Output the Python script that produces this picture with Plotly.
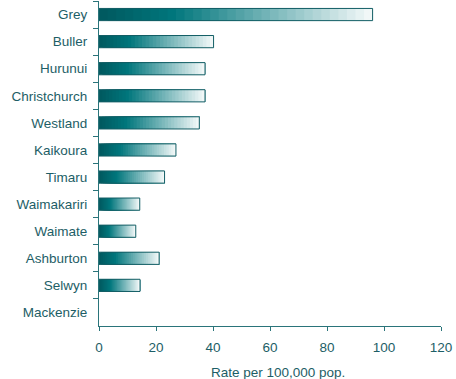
import plotly.graph_objects as go

# Rate per 100,000 population by district
districts = ["Grey", "Buller", "Hurunui", "Christchurch", "Westland", "Kaikoura",
             "Timaru", "Waimakariri", "Waimate", "Ashburton", "Selwyn", "Mackenzie"]
rates = [96.0, 40.2, 37.2, 37.2, 35.2, 27.0, 23.0, 14.3, 12.9, 21.1, 14.4, 0.0]

x_ticks = [0, 20, 40, 60, 80, 100, 120]

TEXT = "#1d5e66"
AXIS = "#2a747a"
EDGE = "#135e65"
FONT = "Arial, Liberation Sans, sans-serif"
FSIZE = 13.5

# gradient stops along each bar: (fraction, rgb)
stops = [(0.0, (0, 88, 94)), (0.27, (0, 118, 124)), (1.0, (246, 250, 250))]


def colour_at(t):
    for (t0, c0), (t1, c1) in zip(stops[:-1], stops[1:]):
        if t <= t1:
            f = (t - t0) / (t1 - t0) if t1 > t0 else 0
            return "rgb(%d,%d,%d)" % tuple(round(a + (b - a) * f) for a, b in zip(c0, c1))
    return "rgb(%d,%d,%d)" % stops[-1][1]


N = 32
fig = go.Figure()
# each band starts further along the bar and runs to its end, so later
# (lighter) bands overlay earlier ones without seams
for i in range(N):
    frac = i / N
    fig.add_trace(go.Bar(
        y=districts,
        x=[v * (1 - frac) for v in rates],
        base=[v * frac for v in rates],
        orientation="h",
        width=0.45,
        marker=dict(color=colour_at((i + 0.5) / N), line=dict(width=0)),
        hoverinfo="skip",
        showlegend=False,
    ))

# outline around each full bar (none for an empty bar)
fig.add_trace(go.Bar(
    y=districts,
    x=rates,
    orientation="h",
    width=0.45,
    marker=dict(color="rgba(0,0,0,0)",
                line=dict(color=EDGE, width=[1 if v > 0 else 0 for v in rates])),
    showlegend=False,
))

fig.update_layout(
    barmode="overlay",
    width=456,
    height=379,
    margin=dict(l=98.5, r=14.5, t=1, b=53),
    paper_bgcolor="white",
    plot_bgcolor="white",
    font=dict(family=FONT, size=FSIZE, color=TEXT),
    xaxis=dict(
        range=[0, 120],
        tickvals=x_ticks,
        ticktext=[str(t) for t in x_ticks],
        showgrid=False,
        zeroline=False,
        showline=True,
        linecolor=AXIS,
        linewidth=1,
        ticks="outside",
        ticklen=4,
        tickcolor=AXIS,
        ticklabelstandoff=5,
        tickfont=dict(family=FONT, size=FSIZE, color=TEXT),
    ),
    yaxis=dict(
        categoryorder="array",
        categoryarray=districts,
        autorange="reversed",
        showgrid=False,
        zeroline=False,
        showline=True,
        linecolor=AXIS,
        linewidth=1,
        ticks="outside",
        tickson="boundaries",
        ticklen=5,
        tickcolor=AXIS,
        ticklabelstandoff=8,
        tickfont=dict(family=FONT, size=FSIZE, color=TEXT),
    ),
    annotations=[dict(
        text="Rate per 100,000 pop.",
        xref="paper", yref="paper",
        x=0.523, y=0, yshift=-46,
        xanchor="center", yanchor="middle",
        showarrow=False,
        font=dict(family=FONT, size=FSIZE, color=TEXT),
    )],
)

fig.write_html("out.html")
